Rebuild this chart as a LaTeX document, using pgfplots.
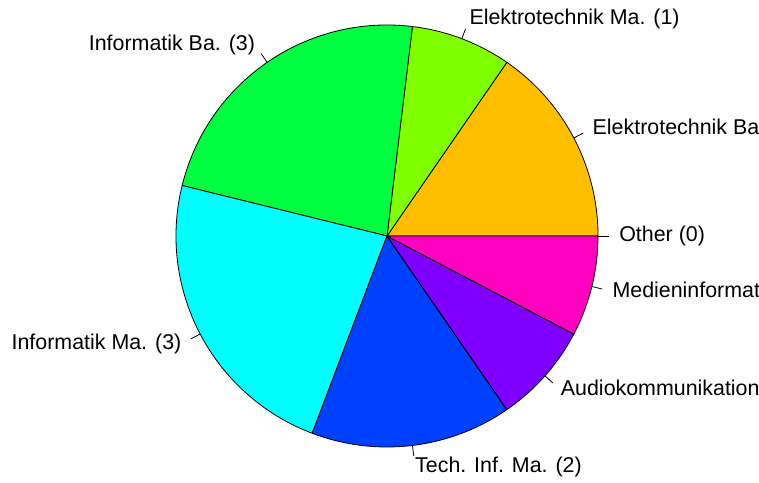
\documentclass[border=0pt]{standalone}
\usepackage{fontspec}
\setmainfont{Liberation Sans}
\usepackage{pgfplots}
\pgfplotsset{compat=1.18}
\definecolor{cOther}{HTML}{FF0000}
\definecolor{cETBa}{HTML}{FFBF00}
\definecolor{cETMa}{HTML}{80FF00}
\definecolor{cIBa}{HTML}{00FF40}
\definecolor{cIMa}{HTML}{00FFFF}
\definecolor{cTIMa}{HTML}{0040FF}
\definecolor{cAK}{HTML}{8000FF}
\definecolor{cMI}{HTML}{FF00BF}
\begin{document}
\begin{tikzpicture}[pielabel/.style={font=\fontsize{21.4bp}{25bp}\selectfont, inner sep=0pt}]
\begin{axis}[scale only axis, width=759bp, height=483bp,
  xmin=-387, xmax=372, ymin=-247, ymax=236, hide axis, clip=false]
\gdef\cum{0}
\foreach \n/\c/\lab in {0/cOther/Other (0), 2/cETBa/Elektrotechnik Ba. (2), 1/cETMa/Elektrotechnik Ma. (1), 3/cIBa/Informatik Ba. (3), 3/cIMa/Informatik Ma. (3), 2/cTIMa/Tech. Inf. Ma. (2), 1/cAK/Audiokommunikation (1), 1/cMI/Medieninformatik (1)}{
  \pgfmathsetmacro\s{\cum}
  \pgfmathsetmacro\e{\cum+\n*360/13}
  \pgfmathsetmacro\m{(\s+\e)/2}
  \pgfmathsetmacro\cm{cos(\m)}
  \ifdim\cm pt<0pt \def\anch{base east}\else\def\anch{base west}\fi
  \edef\temp{\noexpand\filldraw[fill=\c, draw=black, line width=0.8bp, line join=round] (axis cs:0,0) -- (axis cs:{211*cos(\s)},{211*sin(\s)}) arc[start angle=\s, end angle=\e, radius=211bp] -- cycle;
    \noexpand\draw[line width=0.8bp] (axis cs:{211*cos(\m)},{211*sin(\m)}) -- (axis cs:{221.55*cos(\m)},{221.55*sin(\m)});
    \noexpand\node[pielabel, anchor=\anch, yshift=-6bp] at (axis cs:{232.1*cos(\m)},{232.1*sin(\m)}) {\lab};}
  \temp
  \xdef\cum{\e}
}
\end{axis}
\pgfresetboundingbox
\path[use as bounding box] (current axis.south west) rectangle (current axis.north east);
\end{tikzpicture}
\end{document}
